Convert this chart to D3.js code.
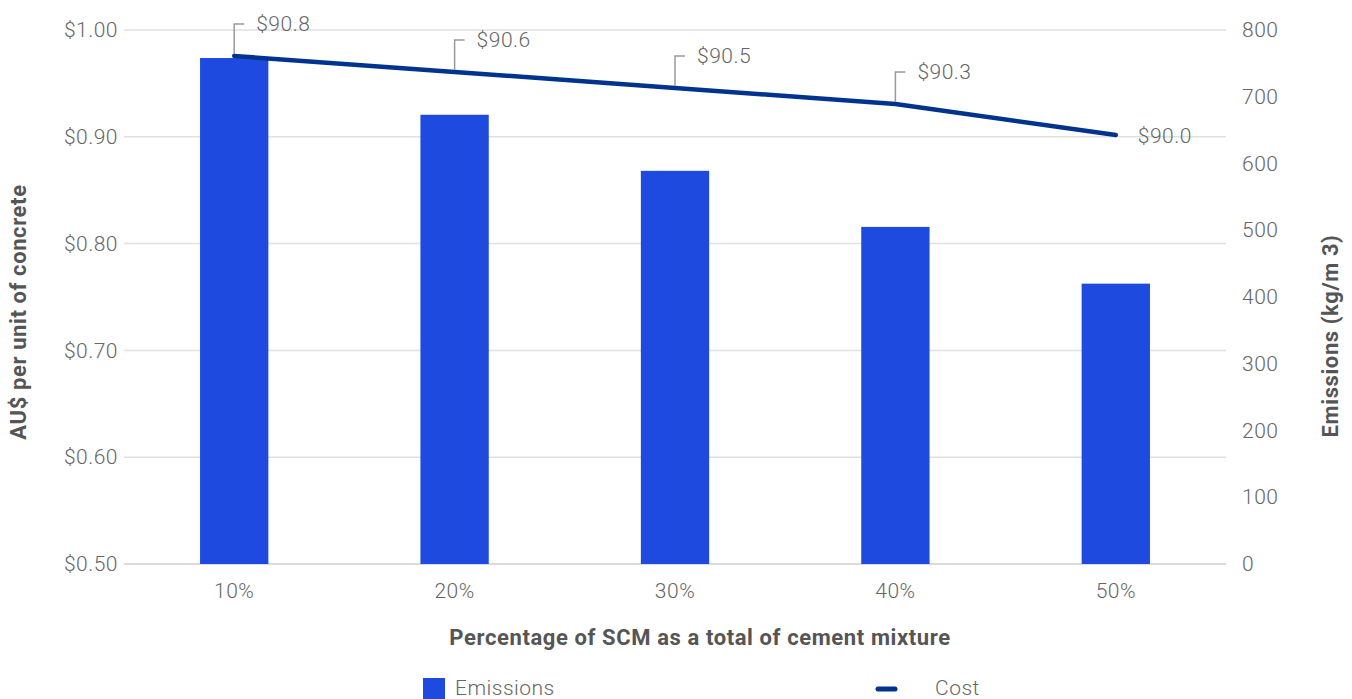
<html>
<head>
<meta charset="utf-8">
<style>
  body { margin: 0; background: #fff; }
  text { font-family: Roboto, "Liberation Sans", sans-serif; }
</style>
</head>
<body>
<div id="chart"></div>

<script type="text/javascript" src="https://cdn.jsdelivr.net/npm/d3@7/dist/d3.min.js"></script>
<script type="text/javascript">
// data
var categories = ["10%", "20%", "30%", "40%", "50%"]
var emissions = [758, 673, 589, 505, 420]           // kg/m3, right axis
var costLine = [0.9757, 0.9607, 0.9457, 0.9307, 0.9017] // plotted on left axis
var costLabels = ["$90.8", "$90.6", "$90.5", "$90.3", "$90.0"]
var leftTicks = [0.5, 0.6, 0.7, 0.8, 0.9, 1.0]
var rightTicks = [0, 100, 200, 300, 400, 500, 600, 700, 800]

var W = 1352, H = 699
var plot = {left: 124, right: 1226, top: 30, bottom: 564}

var svg = d3.select("#chart").append("svg")
  .attr("width", W).attr("height", H)

var x = d3.scaleBand()
  .domain(categories)
  .range([plot.left, plot.right])
  .paddingInner(0.69)
  .paddingOuter(0.345)

var yL = d3.scaleLinear().domain([0.5, 1.0]).range([plot.bottom, plot.top])
var yR = d3.scaleLinear().domain([0, 800]).range([plot.bottom, plot.top])

var grey = "#666"
var tickFont = "21px"

// gridlines
svg.append("g")
  .selectAll("line")
  .data(leftTicks)
  .enter().append("line")
  .attr("x1", plot.left).attr("x2", plot.right)
  .attr("y1", d => yL(d)).attr("y2", d => yL(d))
  .style("stroke", (d, i) => i == 0 ? "#cfcfcf" : "#e0e0e0")
  .style("stroke-width", 1.5)

// axes
var axL = svg.append("g")
  .attr("transform", "translate(" + plot.left + ",0)")
  .call(d3.axisLeft(yL).tickValues(leftTicks).tickSize(0).tickPadding(6)
    .tickFormat(d => "$" + d3.format(".2f")(d)))
var axR = svg.append("g")
  .attr("transform", "translate(" + plot.right + ",0)")
  .call(d3.axisRight(yR).tickValues(rightTicks).tickSize(0).tickPadding(16))
var axB = svg.append("g")
  .attr("transform", "translate(0," + plot.bottom + ")")
  .call(d3.axisBottom(x).tickSize(0).tickPadding(19))

;[axL, axR, axB].forEach(function(a) {
  a.select(".domain").remove()
  a.selectAll("text")
    .style("font-family", "Roboto, sans-serif")
    .style("font-size", tickFont)
    .style("font-weight", 300)
    .style("letter-spacing", "0.5px")
    .style("fill", grey)
})

// bars
svg.append("g")
  .selectAll("rect")
  .data(emissions)
  .enter().append("rect")
  .attr("x", (d, i) => x(categories[i]))
  .attr("width", x.bandwidth())
  .attr("y", d => yR(d))
  .attr("height", d => yR(0) - yR(d))
  .style("fill", "#1f4ae0")

// cost line
var line = d3.line()
  .x((d, i) => x(categories[i]) + x.bandwidth() / 2)
  .y(d => yL(d))

svg.append("path")
  .datum(costLine)
  .attr("d", line)
  .style("fill", "none")
  .style("stroke", "#00338d")
  .style("stroke-width", 4.5)
  .style("stroke-linecap", "round")
  .style("stroke-linejoin", "round")

// data labels with leader lines
var lab = svg.append("g")
costLine.forEach(function(v, i) {
  var cx = x(categories[i]) + x.bandwidth() / 2
  var cy = yL(v)
  var last = i == costLine.length - 1
  var ty = last ? cy + 1 : cy - 32
  if (!last) {
    lab.append("path")
      .attr("d", "M" + cx + "," + (cy - 2) + "V" + ty + "H" + (cx + 10))
      .style("fill", "none")
      .style("stroke", "#999")
      .style("stroke-width", 1.5)
  }
  lab.append("text")
    .attr("x", cx + 22).attr("y", ty)
    .attr("dy", "0.35em")
    .style("font-size", tickFont).style("font-weight", 300)
    .style("letter-spacing", "0.5px")
    .style("fill", grey)
    .text(costLabels[i])
})

// axis titles
function title(t) {
  return t.style("font-size", "22px").style("font-weight", 700)
    .style("letter-spacing", "0.6px")
    .style("fill", "#555")
}

title(svg.append("text")
  .attr("transform", "translate(26,312) rotate(-90)")
  .attr("text-anchor", "middle"))
  .text("AU$ per unit of concrete")

title(svg.append("text")
  .attr("transform", "translate(1338,336) rotate(-90)")
  .attr("text-anchor", "middle"))
  .text("Emissions (kg/m 3)")

title(svg.append("text")
  .attr("x", 700).attr("y", 645)
  .attr("text-anchor", "middle"))
  .text("Percentage of SCM as a total of cement mixture")

// legend
var leg = svg.append("g")
leg.append("rect")
  .attr("x", 423).attr("y", 678).attr("width", 22).attr("height", 22)
  .style("fill", "#1f4ae0")
leg.append("text")
  .attr("x", 455).attr("y", 695)
  .style("font-size", tickFont).style("font-weight", 300)
  .style("letter-spacing", "0.5px")
  .style("fill", grey)
  .text("Emissions")
leg.append("line")
  .attr("x1", 878).attr("x2", 895).attr("y1", 689).attr("y2", 689)
  .style("stroke", "#00338d").style("stroke-width", 5)
  .style("stroke-linecap", "round")
leg.append("text")
  .attr("x", 935).attr("y", 695)
  .style("font-size", tickFont).style("font-weight", 300)
  .style("letter-spacing", "0.5px")
  .style("fill", grey)
  .text("Cost")
</script>
</body>
</html>
